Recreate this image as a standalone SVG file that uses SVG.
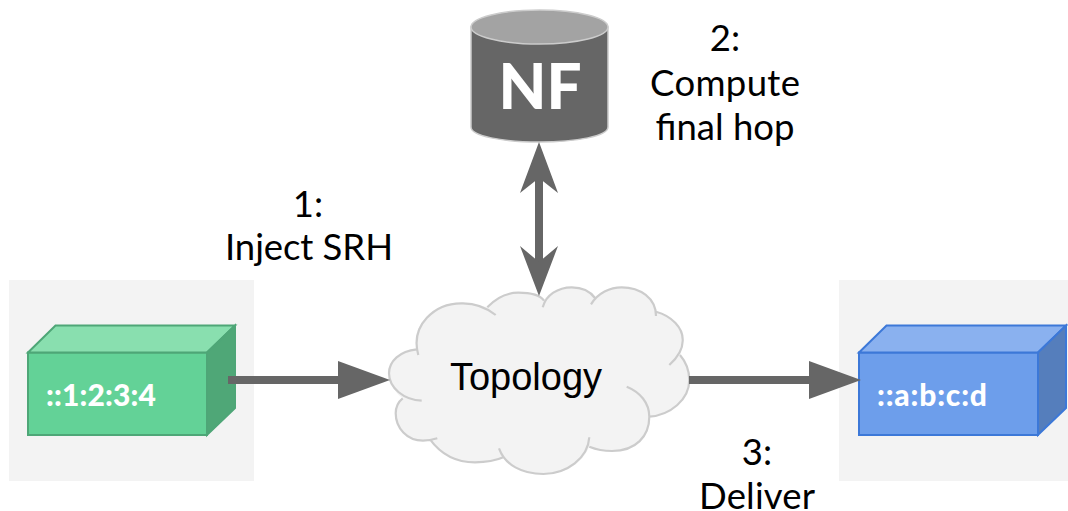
<svg xmlns="http://www.w3.org/2000/svg" width="1068" height="511" viewBox="0 0 1068 511">
<style>
.bg{fill:#f3f3f3}
.conn{stroke:#666;stroke-width:8;fill:none}
.head{fill:#666}
.lbl{font-family:Lato,"Open Sans",sans-serif;font-size:36.5px;fill:#000;text-anchor:middle}
.addr{font-family:Lato,"Open Sans",sans-serif;font-size:30px;font-weight:900;fill:#fff}
.cf{fill:#f3f3f3;stroke:none}
.cl{fill:none;stroke:#ccc;stroke-width:2.2}
</style>
<rect class="bg" x="9" y="280" width="245" height="201"/>
<rect class="bg" x="839" y="280" width="229" height="201"/>
<g id="node-source">
<path d="M28 352.500H207V435H28Z" fill="#63d297" stroke="#4ea677" stroke-width="2"/>
<path d="M28 352.500L55.500 325.500H235L207 352.500Z" fill="#89dfaf" stroke="#4ea677" stroke-width="2"/>
<path d="M207 352.500L235 325.500V408L207 435Z" fill="#4fa777" stroke="#4ea677" stroke-width="2"/>
<text class="addr" x="46" y="406" textLength="110">::1:2:3:4</text>
</g>
<g id="node-dest">
<path d="M859 352.500H1038V435H859Z" fill="#6d9eeb" stroke="#3c78d8" stroke-width="2"/>
<path d="M859 352.500L886.500 325.500H1066L1038 352.500Z" fill="#8ab1ef" stroke="#3c78d8" stroke-width="2"/>
<path d="M1038 352.500L1066 325.500V408L1038 435Z" fill="#557ebc" stroke="#3c78d8" stroke-width="2"/>
<text class="addr" x="877" y="406" textLength="110">::a:b:c:d</text>
</g>
<g id="node-nf">
<path d="M471 27V127C471 136 502 142 539.500 142S608 136 608 127V27Z" fill="#666" stroke="#ccc" stroke-width="1.500"/>
<ellipse cx="539.500" cy="27" rx="68.500" ry="17" fill="#a3a3a3" stroke="#ccc" stroke-width="1.500"/>
<text x="540" y="108.500" font-family="Lato,sans-serif" font-size="62" font-weight="900" fill="#fff" text-anchor="middle">NF</text>
</g>
<g id="node-topology">
<path class="cf" d="M402.700 398.300C394 392 389 382 389 373.300C389 361 400 351 416.700 349.300C410 325 435 303 461.700 303.300C470 303 480 305 487.300 307.300C497 297 508 292.700 518.300 292.700C530 292.700 540 295 544 300.700C546 295 558 287.300 571.700 287.300C582 287.300 590 291 595 298C598 293 610 287.300 621.700 287.300C640 287.300 656 298 656 311.700C672 316 683 328 682.700 340C683 345 682 350 680 355C686 362 689.300 371 689.300 380C689.300 400 670 415 649.300 416.700C649.300 436 636 451 612 451C603 451 595 449 589.300 446.700C582 463 567 474 543.300 474C525 474 510 468 503.300 457.300C495 461 485 462.300 475 462.300C455 462.300 440 453 430 439.300C428 440 425 440.700 423 440.700C407 440.700 395.700 428 395.700 413.300C395.700 407 398 402 402.700 398.300Z"/>
<path class="cl" d="M421.700 400.700C404 400 389 388 389 373.300C389 361 400 351 416.700 349.300M418.300 355C410 325 435 303 461.700 303.300C475 303 487 308 495.700 315M487.300 307.300C497 297 508 292.700 518.300 292.700C530 292.700 540 295 544 300.700M542.700 307.300C546 295 558 287.300 571.700 287.300C582 287.300 590 291 595 298M591 304.300C598 293 610 287.300 621.700 287.300C640 287.300 656 298 656 316M656 311.700C672 316 683 328 682.700 340C683 350 677 358 669.300 365M680 355C686 362 689.300 371 689.300 380C689.300 400 670 415 649.300 416.700M626.700 386.700C640 392 649.300 403 649.300 416.700C649.300 436 636 451 612 451C603 451 595 449 589.300 446.700M589.300 437.300C588 458 567 474 543.300 474C522 474 505 465 499 448.300M503.300 457.300C495 461 485 462.300 475 462.300C455 462.300 440 453 430 439.300M437.300 438.300C432 440 428 440.700 423 440.700C407 440.700 395.700 428 395.700 413.300C395.700 407 398 402 402.700 398.300"/>
<text x="526" y="389.500" font-family="'Liberation Sans',Arial,sans-serif" font-size="38" text-anchor="middle" fill="#000">Topology</text>
</g>
<g id="connectors">
<path class="conn" d="M228 380H342"/>
<path class="head" d="M338 361L390 380L338 399Z"/>
<path class="conn" d="M689 380H812"/>
<path class="head" d="M809 361L861 380L809 399Z"/>
<path class="conn" d="M539 175V265"/>
<path class="head" d="M539 142L558 193L539 178L520 193Z"/>
<path class="head" d="M539 296L558 246L539 262L520 246Z"/>
</g>
<g id="labels">
<text class="lbl" x="308" y="216.500">1:</text>
<text class="lbl" x="309" y="260" textLength="168">Inject SRH</text>
<text class="lbl" x="725" y="51">2:</text>
<text class="lbl" x="725" y="95.500" textLength="150">Compute</text>
<text class="lbl" x="725" y="139.500" textLength="139">final hop</text>
<text class="lbl" x="757" y="465">3:</text>
<text class="lbl" x="757" y="509" textLength="116">Deliver</text>
</g>
</svg>
